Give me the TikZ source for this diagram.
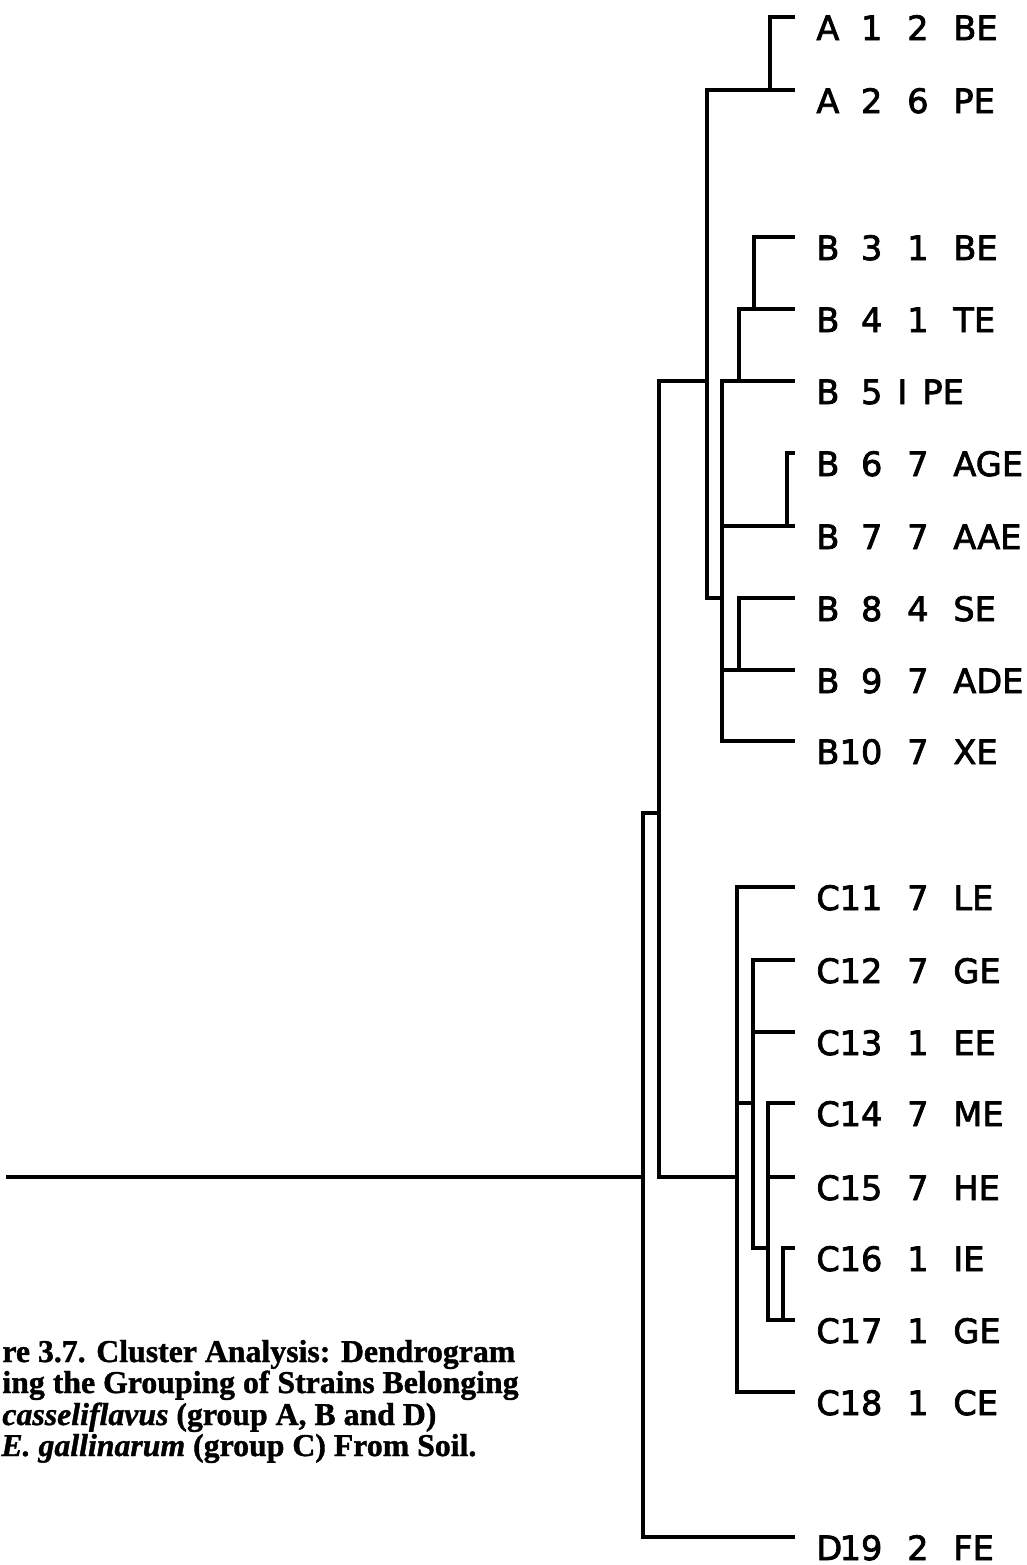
\documentclass[tikz,border=0pt]{standalone}
\usepackage{fontspec}
\setmainfont{Liberation Serif}[BoldFeatures={FakeBold=1.2},BoldItalicFeatures={FakeBold=1.2}]
\newfontfamily\plotfont{DejaVu Sans}[FakeBold=2.2]
\newcommand\strain[4]{\makebox[11pt][l]{#1}\makebox[22pt][r]{#2}\makebox[35.5pt][c]{#3}#4}
\begin{document}
\begin{tikzpicture}[x=0.5pt,y=-0.5pt,
  branch/.style={line width=1.7pt,line join=miter,line cap=rect},
  lab/.style={anchor=base west,inner sep=0pt,font=\plotfont\fontsize{16.8pt}{20pt}\selectfont},
  capline/.style={anchor=base west,inner sep=0pt,font=\bfseries\fontsize{15.9pt}{18pt}\selectfont}]
\useasboundingbox (0,0) rectangle (1027,1565);
\newcommand\leaf[3]{\coordinate (t#1) at (793,#2);
  \node[lab] (l#1) at (816,{#2+23}) {#3};}
% leaves
\leaf{1}{17}{\strain{A}{1}{2}{BE}}
\leaf{2}{90}{\strain{A}{2}{6}{PE}}
\leaf{3}{237}{\strain{B}{3}{1}{BE}}
\leaf{4}{309}{\strain{B}{4}{1}{TE}}
\leaf{5}{381}{\makebox[11pt][l]{B}\makebox[22pt][r]{5}\makebox[20pt][c]{I}PE}
\leaf{6}{453}{\strain{B}{6}{7}{AGE}}
\leaf{7}{526}{\strain{B}{7}{7}{AAE}}
\leaf{8}{598}{\strain{B}{8}{4}{SE}}
\leaf{9}{670}{\strain{B}{9}{7}{ADE}}
\leaf{10}{741}{\strain{B}{10}{7}{XE}}
\leaf{11}{887}{\strain{C}{11}{7}{LE}}
\leaf{12}{960}{\strain{C}{12}{7}{GE}}
\leaf{13}{1032}{\strain{C}{13}{1}{EE}}
\leaf{14}{1103}{\strain{C}{14}{7}{ME}}
\leaf{15}{1177}{\strain{C}{15}{7}{HE}}
\leaf{16}{1248}{\strain{C}{16}{1}{IE}}
\leaf{17}{1320}{\strain{C}{17}{1}{GE}}
\leaf{18}{1392}{\strain{C}{18}{1}{CE}}
\leaf{19}{1537}{\strain{D}{19}{2}{FE}}
% internal junctions
\coordinate (rootL) at (8,1177);
\coordinate (root) at (643,1177);
\coordinate (abc) at (659,813);
\coordinate (ab) at (707,381);
\coordinate (a) at (770,90);
\coordinate (b) at (722,598);
\coordinate (b345) at (739,381);
\coordinate (b34) at (754,309);
\coordinate (b67) at (787,526);
\coordinate (b89) at (739,670);
\coordinate (c) at (737,1177);
\coordinate (c1217) at (753,1103);
\coordinate (c1417) at (768,1248);
\coordinate (c1617) at (783,1320);
% root
\draw[branch] (rootL) -- (root);
\draw[branch] (643,813) -- (643,1537) -- (t19);
\draw[branch] (643,813) -- (abc);
\draw[branch] (659,381) -- (659,1177) -- (c);
% A + B
\draw[branch] (659,381) -- (ab);
\draw[branch] (t2) -- (707,90) -- (707,598) -- (b);
\draw[branch] (t1) -- (770,17) -- (a);
% B
\draw[branch] (t5) -- (722,381) -- (722,741) -- (t10);
\draw[branch] (b345) -- (739,309) -- (t4);
\draw[branch] (t3) -- (754,237) -- (b34);
\draw[branch] (t6) -- (787,453) -- (b67) -- (722,526);
\draw[branch] (t8) -- (739,598) -- (b89) -- (722,670);
\draw[branch] (b89) -- (t9);
\draw[branch] (b67) -- (t7);
% C
\draw[branch] (t11) -- (737,887) -- (737,1392) -- (t18);
\draw[branch] (737,1103) -- (c1217);
\draw[branch] (t12) -- (753,960) -- (753,1248) -- (c1417);
\draw[branch] (t13) -- (753,1032);
\draw[branch] (t14) -- (768,1103) -- (768,1320) -- (c1617) -- (t17);
\draw[branch] (t15) -- (768,1177);
\draw[branch] (t16) -- (783,1248) -- (c1617);
% caption
\node[capline] (cap1) at (2,1362) {re 3.7. Cluster Analysis: Dendrogram};
\node[capline] (cap2) at (2,1393) {ing the Grouping of Strains Belonging};
\node[capline] (cap3) at (2,1425) {\textit{casseliflavus} (group A, B and D)};
\node[capline] (cap4) at (1,1456) {\textit{E. gallinarum} (group C) From Soil.};
\end{tikzpicture}
\end{document}
